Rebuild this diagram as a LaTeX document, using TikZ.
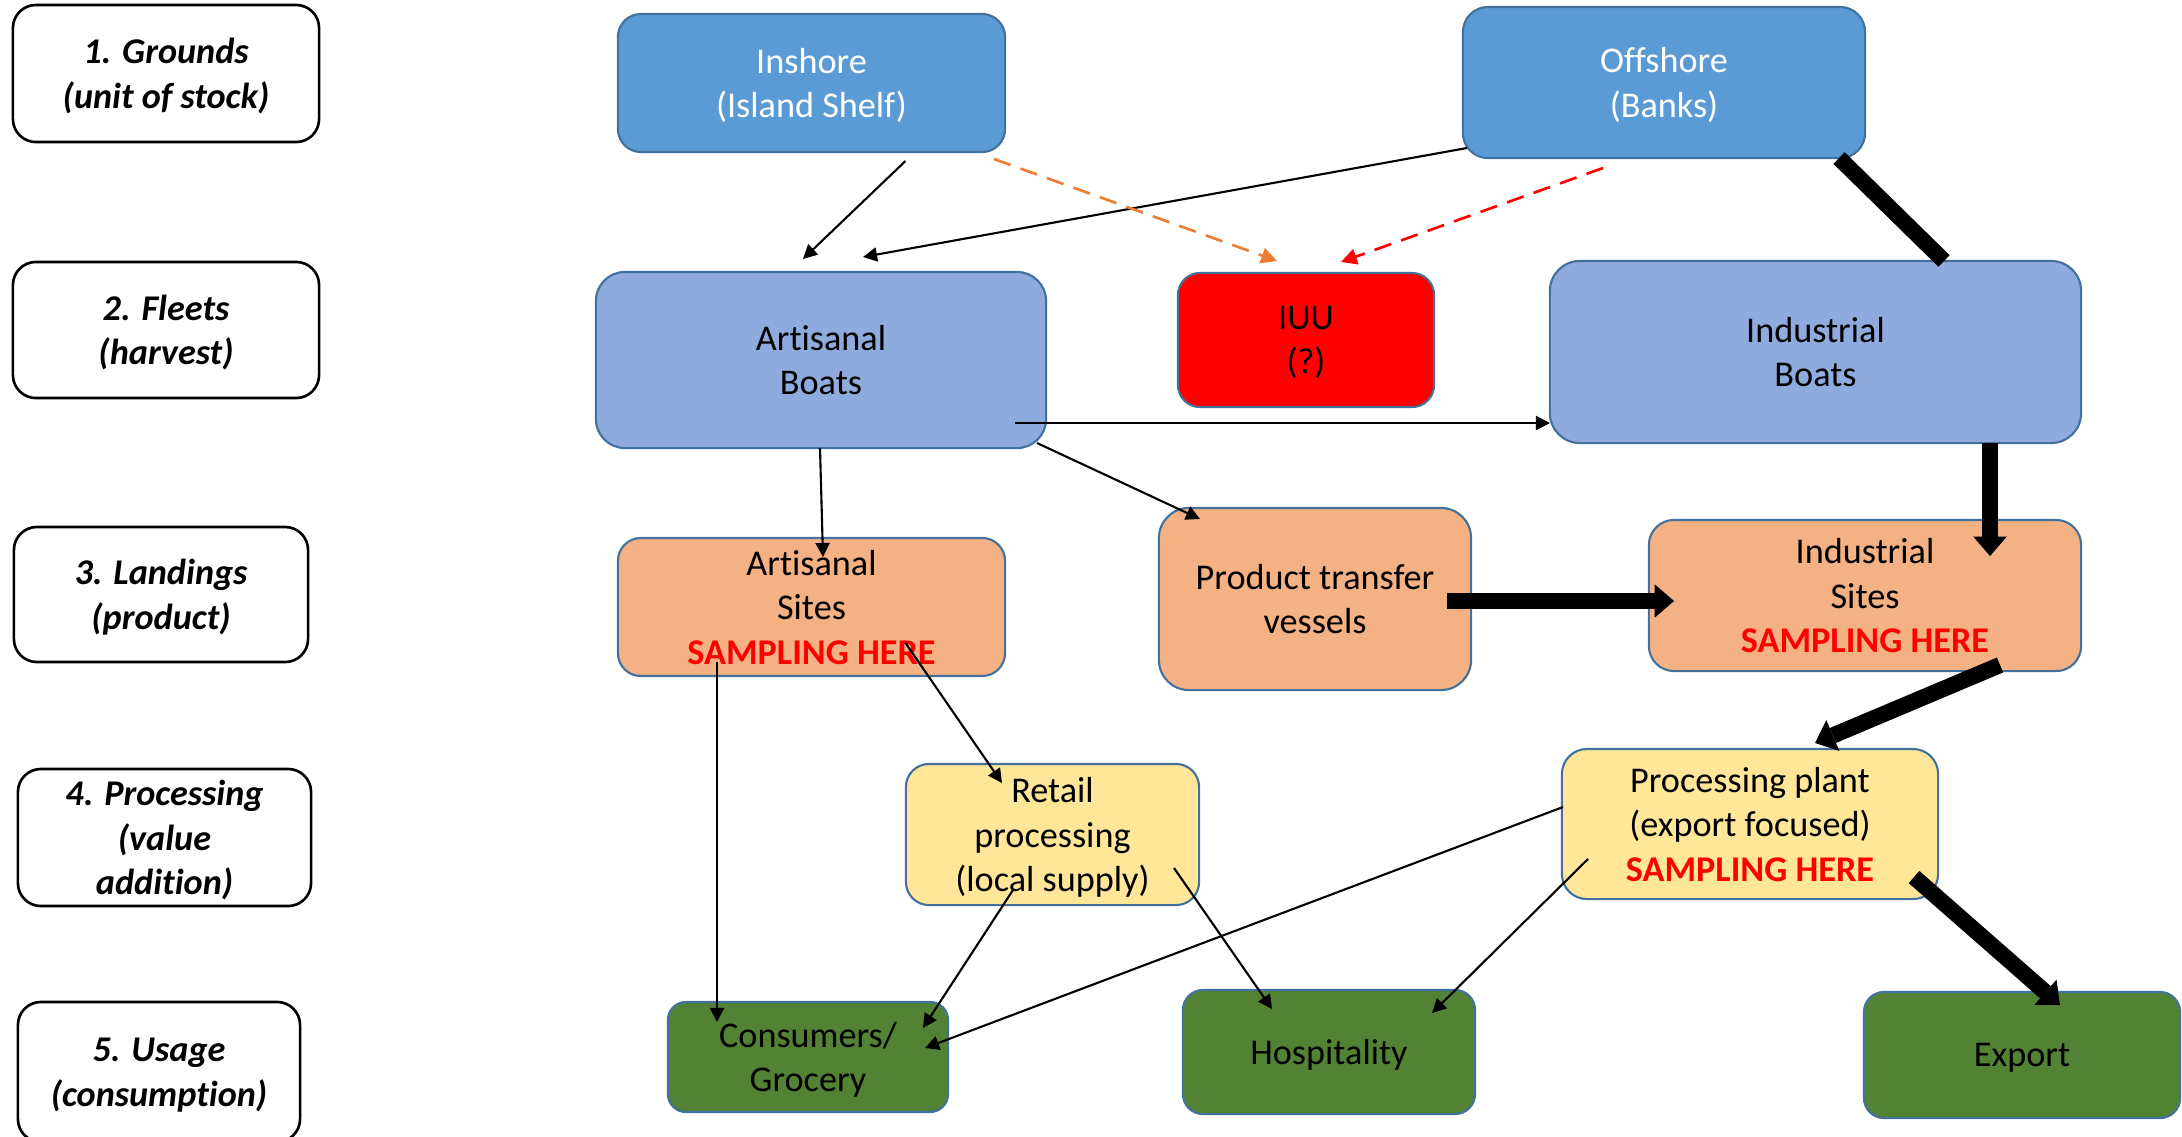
\documentclass[tikz,border=0pt]{standalone}
\usepackage{fontspec}
\setmainfont{Carlito}[Ligatures=CommonOff]
\usetikzlibrary{arrows.meta,calc}

\definecolor{grndfill}{HTML}{5B9BD5}
\definecolor{edgeblue}{HTML}{41719C}
\definecolor{fleetfill}{HTML}{8FAADC}
\definecolor{landfill}{HTML}{F4B183}
\definecolor{procfill}{HTML}{FFE699}
\definecolor{usefill}{HTML}{548235}
\definecolor{iuuorange}{HTML}{ED7D31}

\newcommand{\samplehere}{{\color{red}\bfseries SAMPLING HERE}}

\begin{document}
\begin{tikzpicture}[x=0.01cm,y=-0.01cm,
  every node/.style={font=\fontsize{10.3}{12.66}\selectfont, align=center, inner sep=0pt, text depth=0pt},
  tier/.style={draw=black, line width=0.75pt, fill=white, rounded corners=0.23cm,
    font=\fontsize{10.3}{12.66}\selectfont\bfseries\itshape},
  stage/.style={draw=edgeblue, line width=0.6pt, rounded corners=0.23cm},
  flow/.style={line width=0.6pt, -{Triangle[length=4pt,width=4pt]}},
  bulk/.style={line width=4.6pt, -{Triangle[length=5.5pt,width=9.5pt,line width=0pt]}},
  bulkline/.style={line width=4.6pt},
  orangedash/.style={draw=iuuorange, line width=0.75pt, dash pattern=on 5pt off 3pt,
    -{Triangle[length=4.5pt,width=4.5pt]}, iuuorange},
  reddash/.style={draw=red, line width=0.75pt, dash pattern=on 5pt off 3pt,
    -{Triangle[length=4.5pt,width=4.5pt]}, red}]

\useasboundingbox (0,0) rectangle (2182,1136);
\clip (0,0) rectangle (2182,1136);

% tier labels on the left
\node[tier, minimum width=3.06cm, minimum height=1.37cm] (t1) at (166,73.5) {1. Grounds\\(unit of stock)};
\node[tier, minimum width=3.06cm, minimum height=1.36cm] (t2) at (166,330) {2. Fleets\\(harvest)};
\node[tier, minimum width=2.94cm, minimum height=1.35cm] (t3) at (161,594.5) {3. Landings\\(product)};
\node[tier, minimum width=2.93cm, minimum height=1.37cm] (t4) at (164.5,837.5) {4. Processing\\(value\\addition)};
\node[tier, minimum width=2.82cm, minimum height=1.40cm] (t5) at (159,1072) {5. Usage\\(consumption)};

% grounds
\node[stage, fill=grndfill, text=white, minimum width=3.87cm, minimum height=1.38cm] (inshore) at (811.5,83) {Inshore\\(Island Shelf)};
\node[stage, fill=grndfill, text=white, minimum width=4.02cm, minimum height=1.51cm, rounded corners=0.25cm] (offshore) at (1664,82.5) {Offshore\\(Banks)};

% fleets
\node[stage, fill=fleetfill, minimum width=4.50cm, minimum height=1.76cm, rounded corners=0.29cm] (artboats) at (821,360) {Artisanal\\Boats};
\node[stage, fill=red, minimum width=2.56cm, minimum height=1.34cm, rounded corners=0.22cm] (iuu) at (1306,340) {IUU\\(?)};
\node[stage, fill=fleetfill, minimum width=5.31cm, minimum height=1.82cm, rounded corners=0.3cm] (indboats) at (1815.5,352) {Industrial\\Boats};

% landings
\node[stage, fill=landfill, minimum width=3.87cm, minimum height=1.38cm] (artsites) at (811.5,607) {Artisanal\\Sites\\\samplehere};
\node[stage, fill=landfill, minimum width=3.12cm, minimum height=1.82cm, rounded corners=0.3cm] (transfer) at (1315,599) {Product transfer\\vessels};
\node[stage, fill=landfill, minimum width=4.32cm, minimum height=1.51cm, rounded corners=0.25cm] (indsites) at (1865,595.5) {Industrial\\Sites\\\samplehere};

% processing
\node[stage, fill=procfill, minimum width=2.93cm, minimum height=1.41cm] (retail) at (1052.5,834.5) {Retail\\processing\\(local supply)};
\node[stage, fill=procfill, minimum width=3.76cm, minimum height=1.50cm, rounded corners=0.25cm] (plant) at (1750,824) {Processing plant\\(export focused)\\\samplehere};

% usage
\node[stage, fill=usefill, minimum width=2.80cm, minimum height=1.10cm, rounded corners=0.18cm] (consumers) at (808,1057) {Consumers/\\Grocery};
\node[stage, fill=usefill, minimum width=2.92cm, minimum height=1.24cm, rounded corners=0.2cm] (hosp) at (1329,1052) {Hospitality};
\node[stage, fill=usefill, minimum width=3.16cm, minimum height=1.26cm, rounded corners=0.2cm] (export) at (2022,1055) {Export};

% grounds -> fleets
\draw[flow] ($(inshore.center)+(94,78)$) -- ($(artboats.center)+(-18,-101)$);
\draw[flow] ($(offshore.center)+(-197,65.5)$) -- ($(artboats.center)+(42,-103)$);
\draw[orangedash] ($(inshore.center)+(182.5,76)$) -- ($(iuu.center)+(-29,-79)$);
\draw[reddash] ($(offshore.center)+(-61,85.5)$) -- ($(iuu.center)+(35,-78)$);
\draw[bulkline] ($(offshore.center)+(175,75.5)$) -- ($(indboats.center)+(128.5,-91)$);

% fleets -> landings
\draw[flow] ($(artboats.center)+(194,63)$) -- ($(indboats.center)+(-265.5,71)$);
\draw[flow] ($(artboats.center)+(216,83)$) -- ($(transfer.center)+(-115,-80)$);
\draw[flow] ($(artboats.center)+(-1,88)$) -- ($(artsites.center)+(11.5,-50)$);
\draw[bulk] ($(transfer.center)+(132,2)$) -- ($(indsites.center)+(-191,5.5)$);
\draw[bulk] ($(indboats.center)+(174.5,91)$) -- ($(indsites.center)+(125,-39.5)$);

% landings -> processing
\draw[bulk] ($(indsites.center)+(135,69.5)$) -- ($(plant.center)+(65,-81)$);
\draw[flow] ($(artsites.center)+(94,36)$) -- ($(retail.center)+(-50.5,-51.5)$);

% processing -> usage
\draw[bulk] ($(plant.center)+(164,53)$) -- ($(export.center)+(38,-50)$);
\draw[flow] ($(plant.center)+(-187,-17)$) -- ($(consumers.center)+(117,-9)$);
\draw[flow] ($(plant.center)+(-162,35)$) -- ($(hosp.center)+(103,-39)$);
\draw[flow] ($(retail.center)+(121.5,33.5)$) -- ($(hosp.center)+(-57,-43)$);
\draw[flow] ($(retail.center)+(-39.5,55.5)$) -- ($(consumers.center)+(115,-29)$);
\draw[flow] ($(artsites.center)+(-94.5,55)$) -- ($(consumers.center)+(-91,-35)$);

\end{tikzpicture}
\end{document}
